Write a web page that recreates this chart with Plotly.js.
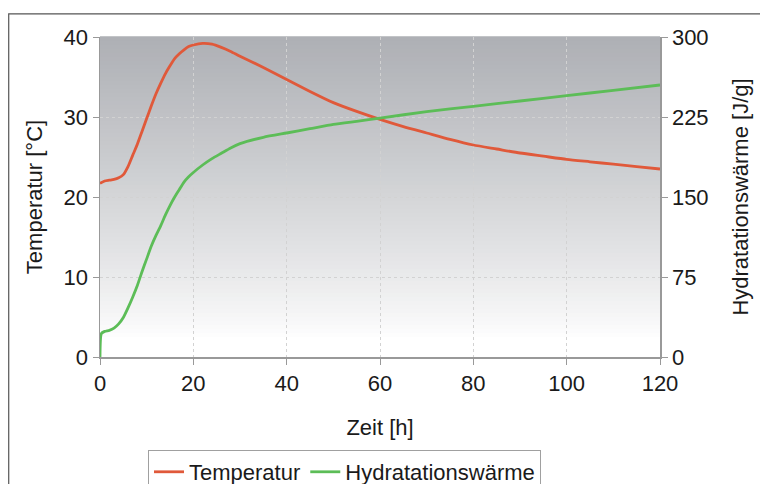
<!DOCTYPE html>
<html>
<head>
<meta charset="utf-8">
<script src="https://cdn.plot.ly/plotly-3.0.1.min.js"></script>
<style>
html,body{margin:0;padding:0;background:#fff;}
#chart{width:760px;height:484px;}
</style>
</head>
<body>
<div id="chart"></div>
<script>
// Time [h]
const tempTime = [0,1,2,3,4,5,6,7,8,9,10,11,12,13,14,15,16,17,18,19,20,22,24,26,28,30,35,40,45,50,55,60,65,70,75,80,85,90,95,100,105,110,115,120];
// Temperatur [°C]
const tempValues = [21.7,22.0,22.1,22.2,22.4,22.8,23.8,25.2,26.6,28.2,29.8,31.4,32.9,34.2,35.4,36.4,37.3,37.9,38.4,38.8,39.0,39.2,39.1,38.7,38.2,37.6,36.2,34.7,33.2,31.8,30.7,29.7,28.8,28.0,27.2,26.5,26.0,25.5,25.1,24.7,24.4,24.1,23.8,23.5];
const heatTime = [0,0.3,1,2,3,4,5,6,7,8,9,10,11,12,13,14,15,16,17,18,19,20,22,24,26,28,30,35,40,45,50,55,60,70,80,90,100,110,120];
// Hydratationswärme [J/g]
const heatValues = [0,22,24,25,27,31,37,46,56,67,80,92,104,114,123,133,142,150,157,164,169,173,180,186,191,196,200,206,210,214,218,221,224,230,235,240,245,250,255];

const xTicks = [0,20,40,60,80,100,120];
const yLeftTicks = [0,10,20,30,40];
const yRightTicks = [0,75,150,225,300];

const FONT = 'Liberation Sans, Arial, sans-serif';
const FS = 22;

// background gradient bands
const shapes = [];
const N = 80;
for (let i = 0; i < N; i++) {
  const f = i / N; // 0 bottom -> 1 top
  let g = Math.max(0, (f - 0.05) / 0.95);
  g = Math.pow(g, 0.85);
  const r = Math.round(255 - (255 - 173) * g);
  const gg = Math.round(255 - (255 - 175) * g);
  const b = Math.round(255 - (255 - 180) * g);
  shapes.push({type:'rect', xref:'paper', yref:'paper', x0:0, x1:1, y0:i/N, y1:(i+1)/N + 0.002,
    fillcolor:`rgb(${r},${gg},${b})`, line:{width:0}, layer:'below'});
}
// outer frame
shapes.push({type:'rect', xref:'paper', yref:'paper', x0:-0.163, x1:1.2, y0:-0.45, y1:1.072,
  line:{color:'#555', width:1.2}, fillcolor:'rgba(0,0,0,0)', layer:'above'});

const traces = [
  {x: tempTime, y: tempValues, type:'scatter', mode:'lines', name:'Temperatur',
   line:{color:'#e0593a', width:2.8, shape:'spline', smoothing:0.6}, yaxis:'y'},
  {x: heatTime, y: heatValues, type:'scatter', mode:'lines', name:'Hydratationswärme',
   line:{color:'#5cbd57', width:2.8, shape:'spline', smoothing:0.6}, yaxis:'y2'}
];

const layout = {
  width:760, height:484,
  margin:{l:100, r:100, t:37, b:127, autoexpand:false},
  paper_bgcolor:'#ffffff',
  plot_bgcolor:'rgba(0,0,0,0)',
  font:{family:FONT, size:FS, color:'#1a1a1a'},
  showlegend:true,
  legend:{orientation:'h', x:0.0857, y:-0.2906, xanchor:'left', yanchor:'top',
    borderwidth:1, bordercolor:'#a0a0a0', bgcolor:'#ffffff', font:{size:FS},
    itemwidth:30, tracegroupgap:0},
  xaxis:{range:[0,120], tickvals:xTicks, ticktext:xTicks.map(String),
    showline:true, linecolor:'#999', linewidth:1.5, ticks:'outside', ticklen:6, tickcolor:'#999',
    showgrid:true, gridcolor:'#d2d2d2', griddash:'dot', gridwidth:1, zeroline:false,
    title:{text:'Zeit [h]', font:{size:FS}, standoff:24}},
  yaxis:{range:[0,40], tickvals:yLeftTicks, ticktext:yLeftTicks.map(String),
    showline:true, linecolor:'#999', linewidth:1.5, ticks:'outside', ticklen:6, tickcolor:'#999',
    showgrid:true, gridcolor:'#d2d2d2', griddash:'dot', gridwidth:1, zeroline:false,
    title:{text:'Temperatur [°C]', font:{size:FS}, standoff:15}},
  yaxis2:{range:[0,300], tickvals:yRightTicks, ticktext:yRightTicks.map(String),
    overlaying:'y', side:'right',
    showline:true, linecolor:'#999', linewidth:1.5, ticks:'outside', ticklen:6, tickcolor:'#999',
    showgrid:false, zeroline:false,
    title:{text:'Hydratationswärme [J/g]', font:{size:FS}, standoff:25}},
  shapes: shapes
};

Plotly.newPlot('chart', traces, layout, {displayModeBar:false, staticPlot:true});
</script>
</body>
</html>
